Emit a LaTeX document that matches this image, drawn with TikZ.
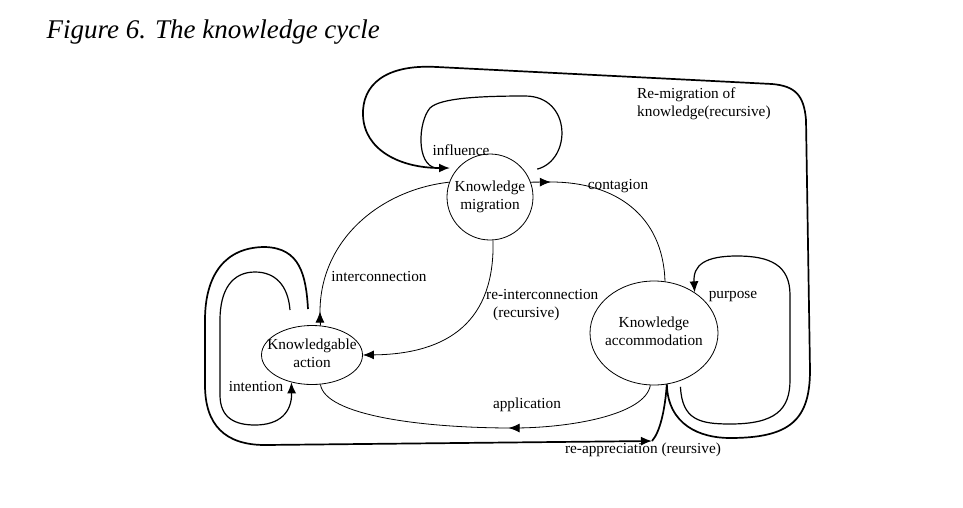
\documentclass[tikz,border=0pt]{standalone}
\usepackage{fontspec}
\setmainfont{Liberation Serif}
\usetikzlibrary{shapes.geometric,arrows.meta,decorations.markings,calc}
\newcommand\zw[1]{\makebox[0pt]{\begin{tabular}{@{}c@{}}#1\end{tabular}}}
\begin{document}
\begin{tikzpicture}[x=1pt,y=-1pt,
  every node/.style={font=\fontsize{15.3}{17.5}\selectfont},
  thinln/.style={line width=0.8pt},
  midln/.style={line width=1.2pt},
  thickln/.style={line width=1.7pt},
  tip/.style={-{Latex[length=11pt,width=9pt]}},
  midtip/.style={postaction={decorate},decoration={markings,mark=at position #1 with {\arrow{Latex[length=11pt,width=9pt]}}}},
  state/.style={draw,line width=0.8pt,inner sep=0pt},
]
\fill[white] (0,0) rectangle (963,507);
\useasboundingbox (0,0) rectangle (963,507);

\node[anchor=base west,font=\fontsize{27}{30}\selectfont\itshape] (title) at (43,38) {Figure 6. The knowledge cycle};

\node[state,circle,minimum size=86pt] (km) at (490,197) {\zw{Knowledge\\migration}};
\node[state,ellipse,minimum width=101pt,minimum height=59pt] (ka) at (312,355) {\zw{Knowledgable\\action}};
\node[state,ellipse,minimum width=128pt,minimum height=104pt] (acc) at (654,333) {\zw{Knowledge\\accommodation}};

\coordinate (inflEnd) at (436,168);
\coordinate (rmEnd) at (450,168);
\coordinate (raS) at (308,309);
\coordinate (raC) at (652,441);
\coordinate (inS) at (290,310);

% influence
\draw[midln] ($(km.40)+(14,0)$) .. controls (572,160) and (572,96) .. (525,96) .. controls (480,96) and (440,98) .. (430,108) .. controls (418,122) and (416,165) .. (inflEnd);
% re-migration
\draw[thickln,tip] (acc.-76) .. controls (668,425) and (700,438) .. (730,438) .. controls (790,438) and (810,420) .. (810,370) -- (806,120) .. controls (804,95) and (795,86) .. (772,84) -- (437,67) .. controls (385,64) and (362,85) .. (363,115) .. controls (364,150) and (400,168) .. (rmEnd);
% purpose
\draw[midln,tip] ($(acc.-61)+(0,6)$) .. controls (682,420) and (700,424) .. (730,424) .. controls (775,424) and (790,410) .. (790,380) -- (790,295) .. controls (790,265) and (770,256) .. (737,256) .. controls (705,256) and (693,265) .. (acc.45);
% contagion
\draw[thinln,midtip=20pt] (km.20) -- (551,182) .. controls (615,182) and (663,215) .. (acc.78);
% interconnection
\draw[thinln,midtip=14pt] (ka.74) -- (320,312) .. controls (320,240) and (380,190) .. (km.160);
% re-interconnection
\draw[thinln,tip] (km.-86) .. controls (495,320) and (450,354) .. (ka.east);
% application
\draw[thinln,midtip=155pt] (acc.-94) .. controls (645,415) and (570,428) .. (513,428) .. controls (420,428) and (325,415) .. (ka.-74);
% re-appreciation
\draw[thickln,tip] (raS) .. controls (306,275) and (300,248) .. (265,247) .. controls (225,247) and (205,275) .. (205,320) -- (205,385) .. controls (205,425) and (225,445) .. (265,445) -- (raC);
\draw[thickln] (raC) .. controls (660,432) and (665,410) .. (acc.-76);
% intention
\draw[midln,tip] (inS) .. controls (288,285) and (275,272) .. (255,272) .. controls (232,272) and (220,290) .. (220,320) -- (220,395) .. controls (220,418) and (235,425) .. (255,425) .. controls (280,425) and (292,412) .. (ka.-127);

\node (lInf) at (461,150) {influence};
\node (lCon) at (618,186) {contagion};
\node[anchor=west,align=left,inner sep=0pt] (lRem) at (637,104) {Re-migration of\\knowledge(recursive)};
\node (lInt) at (379,277) {interconnection};
\node[anchor=west,align=left,inner sep=0pt] (lRei) at (486,305) {re-interconnection\\\hspace*{7pt}(recursive)};
\node (lPur) at (733,297) {purpose};
\node (lInten) at (256,386) {intention};
\node (lApp) at (527,405) {application};
\node (lRea) at (643,450) {re-appreciation (reursive)};
\end{tikzpicture}
\end{document}
